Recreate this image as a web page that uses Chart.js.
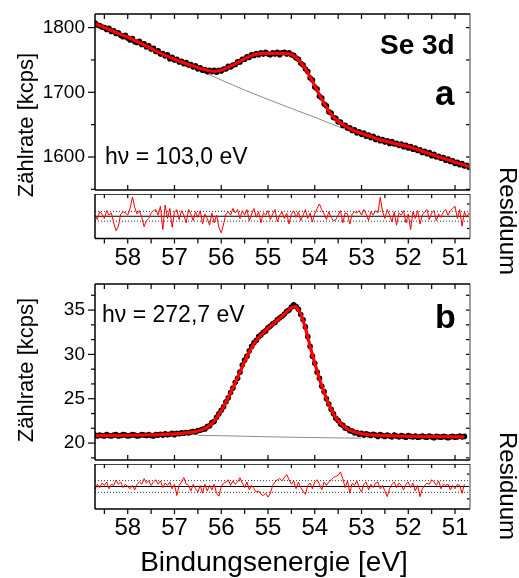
<!DOCTYPE html>
<html>
<head>
<meta charset="utf-8">
<script src="https://cdn.jsdelivr.net/npm/chart.js@4/dist/chart.umd.min.js"></script>
<style>
  body { margin: 0; background: #fff; width: 519px; height: 578px; position: relative; overflow: hidden;
         font-family: "Liberation Sans", Arial, sans-serif; color: #000; }
  canvas { position: absolute; left: 0; }
  .lbl { position: absolute; white-space: nowrap; line-height: 1; }
  .rot-l { transform: translate(-50%, -50%) rotate(-90deg); }
  .rot-r { transform: translate(-50%, -50%) rotate(90deg); }
  .mid { transform: translateX(-50%); }
  .bold { font-weight: bold; }
</style>
</head>
<body>
<canvas id="mainA" width="519" height="194" style="top:0"></canvas>
<canvas id="resA" width="519" height="76" style="top:194px"></canvas>
<canvas id="mainB" width="519" height="194" style="top:270px"></canvas>
<canvas id="resB" width="519" height="114" style="top:464px"></canvas>

<div class="lbl rot-l" style="left:26px;top:125px;font-size:22px">Zählrate [kcps]</div>
<div class="lbl rot-l" style="left:26px;top:370px;font-size:22px">Zählrate [kcps]</div>
<div class="lbl rot-r" style="left:508px;top:221px;font-size:24px">Residuum</div>
<div class="lbl rot-r" style="left:508px;top:486px;font-size:24px">Residuum</div>
<div class="lbl" style="left:105px;top:145px;font-size:23px">hν = 103,0 eV</div>
<div class="lbl" style="left:102px;top:303px;font-size:23px">hν = 272,7 eV</div>
<div class="lbl bold" style="left:380px;top:31px;font-size:28px">Se 3d</div>
<div class="lbl bold" style="left:435px;top:75px;font-size:35px">a</div>
<div class="lbl bold" style="left:435px;top:299px;font-size:34px">b</div>
<div class="lbl mid" style="left:274px;top:548px;font-size:28px">Bindungsenergie [eV]</div>

<script>
// binding energy grid of the measured spectra (eV)
const energy = [
  58.7, 58.65, 58.6, 58.55, 58.5, 58.45, 58.4, 58.35, 58.3, 58.25,
  58.2, 58.15, 58.1, 58.05, 58, 57.95, 57.9, 57.85, 57.8, 57.75,
  57.7, 57.65, 57.6, 57.55, 57.5, 57.45, 57.4, 57.35, 57.3, 57.25,
  57.2, 57.15, 57.1, 57.05, 57, 56.95, 56.9, 56.85, 56.8, 56.75,
  56.7, 56.65, 56.6, 56.55, 56.5, 56.45, 56.4, 56.35, 56.3, 56.25,
  56.2, 56.15, 56.1, 56.05, 56, 55.95, 55.9, 55.85, 55.8, 55.75,
  55.7, 55.65, 55.6, 55.55, 55.5, 55.45, 55.4, 55.35, 55.3, 55.25,
  55.2, 55.15, 55.1, 55.05, 55, 54.95, 54.9, 54.85, 54.8, 54.75,
  54.7, 54.65, 54.6, 54.55, 54.5, 54.45, 54.4, 54.35, 54.3, 54.25,
  54.2, 54.15, 54.1, 54.05, 54, 53.95, 53.9, 53.85, 53.8, 53.75,
  53.7, 53.65, 53.6, 53.55, 53.5, 53.45, 53.4, 53.35, 53.3, 53.25,
  53.2, 53.15, 53.1, 53.05, 53, 52.95, 52.9, 52.85, 52.8, 52.75,
  52.7, 52.65, 52.6, 52.55, 52.5, 52.45, 52.4, 52.35, 52.3, 52.25,
  52.2, 52.15, 52.1, 52.05, 52, 51.95, 51.9, 51.85, 51.8, 51.75,
  51.7, 51.65, 51.6, 51.55, 51.5, 51.45, 51.4, 51.35, 51.3, 51.25,
  51.2, 51.15, 51.1, 51.05, 51, 50.95, 50.9, 50.85, 50.8, 50.75,
  50.7
];

// (a) hv = 103,0 eV : measured counts, fit and residual
const countsA = [
  1807, 1804, 1803, 1801, 1800, 1797, 1799, 1794, 1795, 1791,
  1792, 1788, 1786, 1788, 1784, 1781, 1783, 1778, 1777, 1779,
  1774, 1775, 1770, 1772, 1767, 1768, 1763, 1764, 1759, 1760,
  1756, 1758, 1752, 1754, 1750, 1751, 1747, 1748, 1744, 1746,
  1742, 1743, 1739, 1741, 1736, 1738, 1734, 1735, 1732, 1734,
  1732, 1734, 1731, 1734, 1733, 1736, 1736, 1740, 1739, 1742,
  1743, 1747, 1747, 1751, 1751, 1755, 1754, 1758, 1757, 1760,
  1758, 1761, 1759, 1762, 1759, 1758, 1761, 1759, 1762, 1758,
  1761, 1762, 1759, 1761, 1758, 1757, 1753, 1751, 1745, 1742,
  1736, 1732, 1722, 1719, 1708, 1705, 1694, 1691, 1682, 1679,
  1670, 1668, 1661, 1660, 1654, 1654, 1649, 1649, 1645, 1645,
  1641, 1642, 1637, 1639, 1635, 1637, 1632, 1634, 1630, 1632,
  1627, 1629, 1625, 1627, 1623, 1625, 1621, 1624, 1620, 1621,
  1618, 1620, 1616, 1618, 1614, 1616, 1612, 1614, 1610, 1611,
  1607, 1609, 1605, 1607, 1602, 1604, 1600, 1601, 1598, 1599,
  1595, 1597, 1593, 1594, 1590, 1592, 1588, 1590, 1586, 1587,
  1584
];
// fit evaluated every 0.1 eV (every second grid point)
const fitA = [
  1806, 1803, 1800, 1797, 1794, 1791, 1788, 1785, 1782, 1778.5,
  1775, 1771.5, 1768, 1764, 1760.5, 1757, 1754, 1751, 1748, 1745.5,
  1743, 1740.5, 1738, 1736, 1734, 1732.5, 1732.5, 1734, 1737, 1740.5,
  1744, 1748, 1752, 1755.5, 1758, 1759.5, 1760, 1760, 1760, 1760,
  1760, 1760, 1758.5, 1754, 1746, 1737, 1724, 1710, 1696, 1683,
  1671, 1662, 1655, 1650, 1646, 1642, 1639, 1636.5, 1634, 1631.5,
  1628.5, 1626.5, 1624.5, 1623, 1621, 1619.5, 1618, 1616, 1614, 1611.5,
  1609, 1606.5, 1604, 1601.5, 1599, 1597, 1594.5, 1592, 1590, 1587.5,
  1585
];
const backgroundEnergyA = [56.7, 56.5, 56.3, 56.0, 55.5, 55.0, 54.5, 54.0, 53.5, 53.2, 53.0];
const backgroundA = [1742, 1735.5, 1728.5, 1719, 1703.5, 1689, 1675, 1661.5, 1647, 1639.5, 1636];
const residualA = [
  0.05, -0.15, 0.2, 0.1, -0.1, 0.25, 0.05, 0.15, -0.3, -0.65,
  -0.45, 0.1, 0.2, 0.15, 0.05, 0.35, 0.86, 0.4, 0.1, 0.25,
  -0.05, -0.47, -0.2, -0.1, 0.15, 0.25, 0.3, 0.05, 0.45, -0.6,
  0.5, -0.1, 0.35, -0.5, 0.2, 0.3, -0.15, 0.25, 0.05, -0.3,
  0.3, 0.1, -0.2, 0.2, -0.05, 0.25, -0.35, 0.1, -0.1, -0.4,
  0.15, -0.3, 0.05, -0.5, -0.75, -0.35, 0.1, 0.2, 0.05, 0.35,
  0.15, 0.3, -0.1, 0.25, 0.05, 0.3, -0.2, 0.1, 0.35, -0.05,
  0.2, -0.3, 0.15, 0.05, 0.25, -0.15, 0.1, 0.3, -0.25, 0.05,
  0.2, -0.1, 0.15, -0.35, 0.1, 0.25, -0.05, 0.2, -0.2, 0.05,
  0.3, -0.1, 0.15, -0.25, 0.1, 0.35, 0.55, 0.3, 0.1, -0.15,
  0.2, -0.05, -0.2, -0.15, 0.05, 0.25, -0.3, 0.15, 0.1, -0.35,
  0.1, 0.2, 0.15, 0.25, 0.05, 0.3, 0.1, -0.2, 0.2, 0.05,
  0.25, 0.15, 0.85, 0.2, -0.1, 0.3, 0.05, -0.25, 0.2, -0.4,
  0.15, 0.05, 0.25, -0.3, 0.1, -0.6, 0.2, -0.1, 0.25, -0.35,
  0.05, 0.2, 0.3, -0.15, 0.15, 0.25, -0.2, 0.1, -0.05, 0.2,
  0.3, 0.05, 0.25, 0.35, 0.45, -0.1, 0.3, -0.45, 0.2, -0.05,
  0.15
];

// (b) hv = 272,7 eV (scan stops at 50.8 eV)
const countsB = [
  20.9, 20.8, 20.9, 20.85, 20.8, 20.95, 20.85, 20.8, 20.9, 20.95,
  20.8, 20.85, 20.95, 20.9, 20.8, 20.85, 20.95, 20.9, 20.8, 20.85,
  20.95, 20.9, 20.85, 20.95, 20.85, 20.8, 20.95, 20.9, 21.0, 20.9,
  21.05, 20.95, 21.0, 21.1, 20.95, 21.1, 21.05, 21.15, 21.1, 21.2,
  21.15, 21.25, 21.3, 21.25, 21.4, 21.45, 21.55, 21.6, 21.85, 21.95,
  22.3, 22.45, 22.9, 23.3, 23.7, 24.1, 24.65, 25.1, 25.7, 26.2,
  26.85, 27.3, 28.0, 28.8, 29.35, 29.8, 30.4, 30.9, 31.3, 31.6,
  32.0, 32.2, 32.5, 32.65, 33.0, 33.2, 33.45, 33.6, 33.9, 34.1,
  34.3, 34.55, 34.85, 35.0, 35.35, 35.6, 35.4, 35.1, 34.5, 33.9,
  33.1, 32.0, 30.9, 29.8, 29.0, 28.0, 27.3, 26.4, 25.8, 25.0,
  24.4, 23.8, 23.3, 22.8, 22.55, 22.15, 22.0, 21.7, 21.65, 21.4,
  21.35, 21.15, 21.2, 21.0, 21.1, 20.9, 21.05, 20.95, 20.85, 21.0,
  20.9, 20.75, 20.95, 20.85, 20.75, 20.9, 20.8, 20.7, 20.9, 20.8,
  20.7, 20.85, 20.75, 20.65, 20.85, 20.75, 20.7, 20.8, 20.65, 20.7,
  20.8, 20.7, 20.65, 20.8, 20.7, 20.6, 20.75, 20.7, 20.65, 20.75,
  20.7, 20.6, 20.7, 20.75, 20.65, 20.7, 20.8, 20.7, 20.75
];
const fitB = [
  20.85, 20.85, 20.86, 20.86, 20.87, 20.87, 20.88, 20.88, 20.89, 20.89,
  20.9, 20.91, 20.92, 20.93, 20.95, 20.97, 21.0, 21.03, 21.07, 21.12,
  21.18, 21.26, 21.36, 21.52, 21.78, 22.2, 22.85, 23.65, 24.6, 25.65,
  26.8, 28.0, 29.2, 30.3, 31.2, 31.9, 32.45, 32.95, 33.4, 33.85,
  34.3, 34.8, 35.3, 35.4, 34.6, 33.0, 30.9, 29.0, 27.2, 25.7,
  24.35, 23.3, 22.5, 21.95, 21.6, 21.35, 21.18, 21.06, 20.98, 20.93,
  20.9, 20.87, 20.85, 20.83, 20.81, 20.79, 20.77, 20.76, 20.75, 20.74,
  20.73, 20.73, 20.72, 20.72, 20.71, 20.71, 20.7, 20.7, 20.7, 20.7
];
const backgroundEnergyB = [56.5, 56.0, 55.5, 55.0, 54.5, 54.0, 53.5, 53.0];
const backgroundB = [20.87, 20.83, 20.77, 20.71, 20.66, 20.62, 20.58, 20.56];
const residualB = [
  -0.15, 0.1, -0.05, 0.15, 0.05, 0.2, -0.1, 0.1, 0.05, 0.28,
  0.1, 0.2, -0.05, 0.1, 0.0, -0.1, 0.05, -0.15, 0.1, 0.2,
  0.1, 0.35, 0.15, 0.25, 0.05, 0.2, 0.3, 0.1, 0.25, -0.05,
  0.15, 0.05, 0.2, -0.1, 0.1, -0.4, 0.05, 0.2, 0.4, 0.1,
  0.05, -0.2, 0.1, -0.1, -0.25, 0.05, -0.3, 0.1, -0.2, 0.05,
  -0.15, 0.1, -0.3, -0.43, 0.0, 0.15, 0.2, 0.3, 0.05, 0.25,
  0.1, 0.2, 0.39, 0.15, -0.05, 0.2, -0.15, 0.05, -0.1, -0.25,
  -0.2, -0.35, -0.4, -0.3, -0.47, -0.3, 0.05, 0.2, 0.3, 0.35,
  0.25, 0.4, 0.53, 0.3, 0.1, 0.25, -0.1, 0.2, -0.05, -0.2,
  -0.35, 0.05, 0.15, -0.1, 0.2, 0.3, 0.1, -0.15, 0.2, 0.05,
  0.2, 0.3, 0.4, 0.45, 0.5, 0.65, 0.35, -0.05, 0.25, -0.3,
  0.15, 0.05, 0.25, -0.05, -0.25, 0.1, 0.2, -0.15, 0.1, -0.05,
  0.15, 0.2, -0.1, 0.05, -0.2, -0.45, -0.1, 0.1, 0.2, -0.05,
  0.15, 0.05, -0.15, 0.1, 0.2, -0.05, 0.15, -0.2, 0.05, -0.45,
  -0.1, 0.05, 0.15, 0.1, 0.3, 0.2, 0.05, 0.25, -0.1, 0.1,
  0.05, 0.1, -0.15, 0.05, -0.1, 0.1, 0.05, -0.3, 0.1
];

// axis ticks
const energyTicks = [58, 57, 56, 55, 54, 53, 52, 51];
const energyMinorTicks = [58.5, 57.5, 56.5, 55.5, 54.5, 53.5, 52.5, 51.5];
const countTicksA = [1600, 1700, 1800];
const countMinorA = [1550, 1650, 1750];
const countTicksB = [20, 25, 30, 35];
const countMinorB = [18.33, 21.67, 23.33, 26.67, 28.33, 31.67, 33.33, 36.67];
const residualTicks = [-0.55, 0.55];
const sigmaA = 0.22;
const sigmaB = 0.26;

const energyRange = { min: 50.68, max: 58.7 };

Chart.defaults.font.family = "'Liberation Sans', Arial, sans-serif";
Chart.defaults.color = '#000';

function points(xs, ys) {
  return ys.map((v, i) => ({ x: xs[i], y: v }));
}
const fitEnergy = energy.filter((_, i) => i % 2 === 0);

// frame and Origin-style tick marks (inner / outer length in px)
const frameTicks = {
  id: 'frameTicks',
  afterDraw(chart, args, opts) {
    const { ctx, chartArea: a, scales } = chart;
    ctx.save();
    ctx.lineWidth = 1.2;
    (opts.marks || []).forEach(m => {
      ctx.strokeStyle = m.color || '#000';
      const scale = scales[m.axis];
      m.values.forEach(v => {
        const p = scale.getPixelForValue(v);
        ctx.beginPath();
        if (m.side === 'top') { ctx.moveTo(p, a.top - m.outer); ctx.lineTo(p, a.top + m.inner); }
        if (m.side === 'bottom') { ctx.moveTo(p, a.bottom + m.outer); ctx.lineTo(p, a.bottom - m.inner); }
        if (m.side === 'left') { ctx.moveTo(a.left - m.outer, p); ctx.lineTo(a.left + m.inner, p); }
        if (m.side === 'right') { ctx.moveTo(a.right + m.outer, p); ctx.lineTo(a.right - m.inner, p); }
        ctx.stroke();
      });
    });
    ctx.lineWidth = 1.5;
    const f = opts.frame;
    const side = (color, x1, y1, x2, y2) => {
      ctx.strokeStyle = color;
      ctx.beginPath(); ctx.moveTo(x1, y1); ctx.lineTo(x2, y2); ctx.stroke();
    };
    side(f.right, a.right, a.top, a.right, a.bottom);
    side(f.top, a.left, a.top, a.right, a.top);
    side(f.bottom, a.left, a.bottom, a.right, a.bottom);
    side(f.left, a.left, a.top, a.left, a.bottom);
    ctx.restore();
  }
};

const frameColors = { top: '#000', bottom: '#000', left: '#000', right: '#808080' };

// fixed axis boxes so every panel lines up on the same plot rectangle
function fixWidth(w) {
  return s => { s.width = w; s.paddingTop = 0; s.paddingBottom = 0; };
}
function fixHeight(h) {
  return s => { s.height = h; s.paddingLeft = 0; s.paddingRight = 0; };
}

function mainChart(id, counts, fit, bgE, bg, yMin, yMax, yTicks, yMinor) {
  return new Chart(document.getElementById(id), {
    type: 'scatter',
    data: {
      datasets: [
        { data: points(fitEnergy, fit), showLine: true, borderColor: '#ff0000', borderWidth: 3.2,
          pointRadius: 0, tension: 0 },
        { data: points(energy, counts), backgroundColor: '#000', borderWidth: 0, pointRadius: 2.8 },
        { data: points(bgE, bg), showLine: true, borderColor: '#8c8c8c', borderWidth: 1,
          pointRadius: 0, cubicInterpolationMode: 'monotone' }
      ]
    },
    plugins: [frameTicks],
    options: {
      responsive: false, animation: false, events: [],
      layout: { padding: { top: 14, right: 49, left: 0, bottom: 0 } },
      scales: {
        x: { type: 'linear', reverse: true, min: energyRange.min, max: energyRange.max, display: false },
        y: {
          type: 'linear', min: yMin, max: yMax,
          grid: { display: false, drawTicks: false }, border: { display: false },
          afterBuildTicks: s => { s.ticks = yTicks.map(v => ({ value: v })); },
          afterFit: fixWidth(95),
          ticks: { font: { size: 19 }, padding: 10, callback: v => String(v) }
        }
      },
      plugins: {
        legend: { display: false }, tooltip: { enabled: false },
        frameTicks: {
          frame: frameColors,
          marks: [
            { axis: 'x', side: 'top', values: energyTicks.concat(energyMinorTicks), inner: 5, outer: 0 },
            { axis: 'x', side: 'bottom', values: energyTicks, inner: 5, outer: 0 },
            { axis: 'y', side: 'left', values: yTicks, inner: 0, outer: 7 },
            { axis: 'y', side: 'left', values: yMinor, inner: 0, outer: 4 },
            { axis: 'y', side: 'right', values: yTicks.concat(yMinor), inner: 4, outer: 0 }
          ]
        }
      }
    }
  });
}

function residualChart(id, residual, sigma, axisHeight, labelPad) {
  const ends = [energy[0], energy[energy.length - 1]];
  return new Chart(document.getElementById(id), {
    type: 'scatter',
    data: {
      datasets: [
        { data: points(energy, residual), showLine: true, borderColor: '#ff0000', borderWidth: 1,
          pointRadius: 0 },
        { data: points(ends, [0, 0]), showLine: true, borderColor: '#000', borderWidth: 1, pointRadius: 0 },
        { data: points(ends, [sigma, sigma]), showLine: true, borderColor: '#333', borderWidth: 1,
          borderDash: [1, 2], pointRadius: 0 },
        { data: points(ends, [-sigma, -sigma]), showLine: true, borderColor: '#333', borderWidth: 1,
          borderDash: [1, 2], pointRadius: 0 }
      ]
    },
    plugins: [frameTicks],
    options: {
      responsive: false, animation: false, events: [],
      layout: { padding: { top: 0, right: 49, left: 95, bottom: 0 } },
      scales: {
        x: {
          type: 'linear', reverse: true, min: energyRange.min, max: energyRange.max,
          grid: { display: false, drawTicks: false }, border: { display: false },
          afterBuildTicks: s => { s.ticks = energyTicks.map(v => ({ value: v })); },
          afterFit: fixHeight(axisHeight),
          ticks: { font: { size: 24 }, padding: labelPad, maxRotation: 0, callback: v => String(v) }
        },
        y: { type: 'linear', min: -1, max: 1, display: false }
      },
      plugins: {
        legend: { display: false }, tooltip: { enabled: false },
        frameTicks: {
          frame: frameColors,
          marks: [
            { axis: 'x', side: 'top', values: energyTicks.concat(energyMinorTicks), inner: 4, outer: 0 },
            { axis: 'x', side: 'bottom', values: energyTicks.concat(energyMinorTicks), inner: 0, outer: 5 },
            { axis: 'y', side: 'right', values: residualTicks, inner: 3, outer: 0 }
          ]
        }
      }
    }
  });
}

mainChart('mainA', countsA, fitA, backgroundEnergyA, backgroundA, 1549, 1821, countTicksA, countMinorA);
residualChart('resA', residualA, sigmaA, 31.5, 5);
mainChart('mainB', countsB, fitB, backgroundEnergyB, backgroundB, 18.09, 37.94, countTicksB, countMinorB);
residualChart('resB', residualB, sigmaB, 69, 5);
</script>
</body>
</html>
